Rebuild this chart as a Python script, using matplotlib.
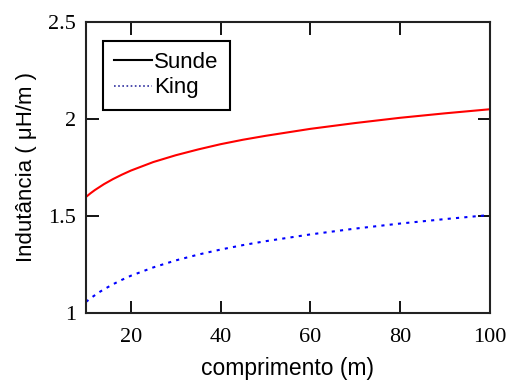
import numpy as np
import matplotlib.pyplot as plt
from matplotlib.lines import Line2D

# Inductance per unit length vs conductor length
comprimento = [10, 11, 12, 13, 14, 16, 18, 20, 25, 30, 35, 40, 45, 50, 60, 70, 80, 90, 100]
sunde = [1.598, 1.617, 1.634, 1.649, 1.664, 1.690, 1.713, 1.734, 1.778, 1.813, 1.843,
         1.870, 1.893, 1.913, 1.949, 1.979, 2.006, 2.029, 2.050]
king = [1.057, 1.076, 1.092, 1.108, 1.122, 1.148, 1.171, 1.192, 1.235, 1.271, 1.301,
        1.327, 1.350, 1.370, 1.405, 1.435, 1.461, 1.484, 1.505]

xticks = [20, 40, 60, 80, 100]
yticks = [1, 1.5, 2, 2.5]
ytick_labels = ['1', '1.5', '2', '2.5']

fig = plt.figure(figsize=(5.15, 3.85), dpi=100)
ax = fig.add_axes([0.167, 0.187, 0.784, 0.756])

ax.plot(comprimento, sunde, '-', color='red', linewidth=1.5)
ax.plot(comprimento, king, linestyle=(0, (1.5, 2.5)), color='blue', linewidth=1.5)

ax.set_xlim(10, 100)
ax.set_ylim(1, 2.5)
ax.set_xticks(xticks)
ax.set_yticks(yticks)
ax.set_yticklabels(ytick_labels)

ax.tick_params(direction='in', length=9, width=1.3, top=True, right=True,
               labelsize=16, pad=7)
ax.tick_params(axis='x', pad=11)
for lbl in ax.get_xticklabels() + ax.get_yticklabels():
    lbl.set_family('Liberation Serif')
for sp in ax.spines.values():
    sp.set_linewidth(1.5)
    sp.set_color('#222222')

ax.set_xlabel('comprimento (m)', family='Liberation Sans', fontsize=16.5, labelpad=7)
ax.set_ylabel('Indutância ( μH/m )', family='Liberation Sans', fontsize=16, labelpad=8)

handles = [Line2D([], [], color='black', linewidth=1.5),
           Line2D([], [], color='#3030a0', linestyle=(0, (1, 1.5)), linewidth=1.2)]
leg = ax.legend(handles, ['Sunde', 'King'], loc='upper left',
                bbox_to_anchor=(0.042, 0.935), fancybox=False, framealpha=1,
                edgecolor='black', handlelength=1.7, handletextpad=0.1,
                labelspacing=0.2, borderpad=0.5, borderaxespad=0,
                prop={'family': 'Liberation Sans', 'size': 16})
leg.get_frame().set_linewidth(1.5)

fig.savefig('out.png', dpi=100)
